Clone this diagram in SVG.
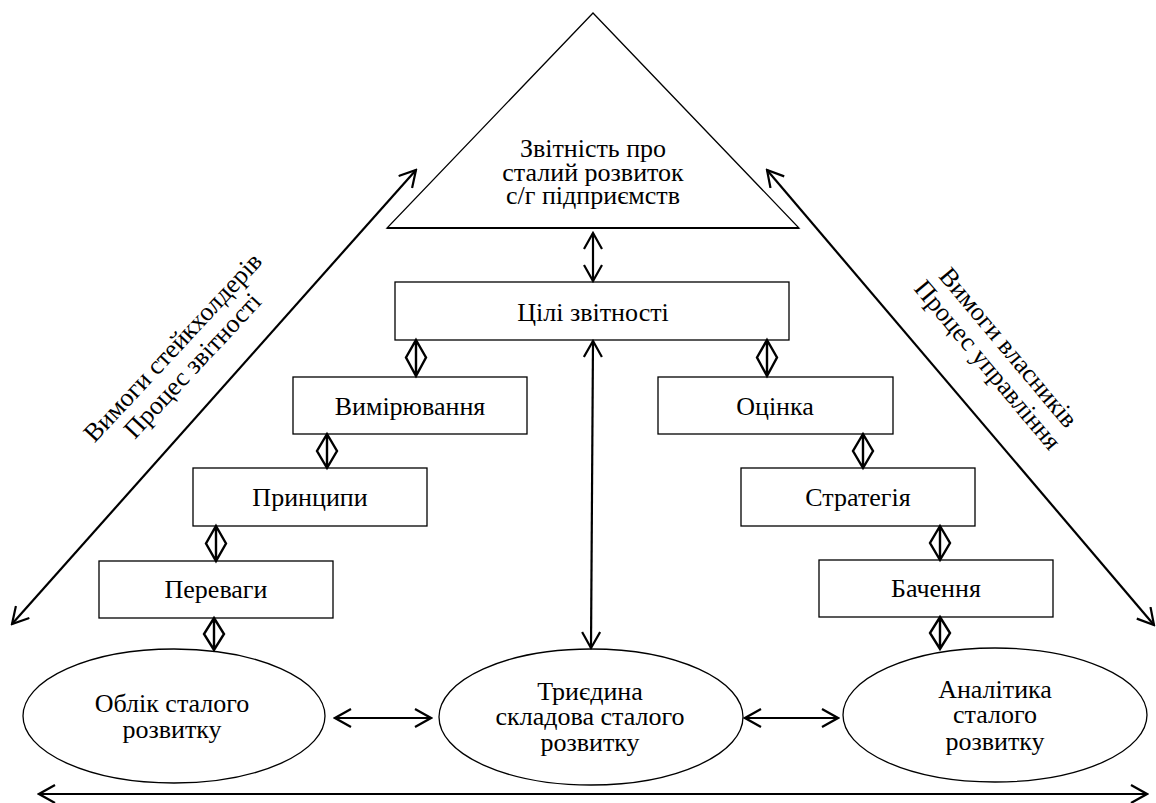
<svg xmlns="http://www.w3.org/2000/svg" width="1156" height="803" viewBox="0 0 1156 803">
<style>
  .shape{fill:#fff;stroke:#000;stroke-width:1.3}
  .arr{fill:none;stroke:#000;stroke-width:2.2;marker-start:url(#ah);marker-end:url(#ah)}
  .dia{fill:none;stroke:#000;stroke-width:2.4;stroke-linejoin:miter}
</style>
<defs>
  <marker id="ah" viewBox="0 0 20 20" refX="18" refY="10" markerWidth="20" markerHeight="20" markerUnits="userSpaceOnUse" orient="auto-start-reverse">
    <path d="M2,1 L18,10 L2,19" fill="none" stroke="#000" stroke-width="2.2"/>
  </marker>
</defs>
<rect width="1156" height="803" fill="#fff"/>

<g font-family="Liberation Serif" font-size="26" text-anchor="middle" fill="#000">
<g id="triangle">
  <polygon class="shape" points="593,13 387,228 799,228"/>
  <line x1="387" y1="228" x2="799" y2="228" stroke="#000" stroke-width="2"/>
  <text x="593" y="157" font-family="Liberation Serif">Звітність про</text>
  <text x="593" y="181" font-family="Liberation Serif">сталий розвиток</text>
  <text x="593" y="204" font-family="Liberation Serif">с/г підприємств</text>
</g>

<g id="goals">
  <rect class="shape" x="395" y="282" width="394" height="58"/>
  <text x="593" y="321" font-family="Liberation Serif">Цілі звітності</text>
</g>
<g id="measure">
  <rect class="shape" x="293" y="377" width="234" height="57"/>
  <text x="410" y="415" font-family="Liberation Serif">Вимірювання</text>
</g>
<g id="principles">
  <rect class="shape" x="193" y="468" width="234" height="58"/>
  <text x="310" y="506" font-family="Liberation Serif">Принципи</text>
</g>
<g id="advantages">
  <rect class="shape" x="99" y="561" width="234" height="57"/>
  <text x="216" y="598" font-family="Liberation Serif">Переваги</text>
</g>
<g id="assessment">
  <rect class="shape" x="658" y="377" width="235" height="57"/>
  <text x="775" y="415" font-family="Liberation Serif">Оцінка</text>
</g>
<g id="strategy">
  <rect class="shape" x="741" y="468" width="234" height="58"/>
  <text x="858" y="506" font-family="Liberation Serif">Стратегія</text>
</g>
<g id="vision">
  <rect class="shape" x="819" y="560" width="234" height="57"/>
  <text x="936" y="597" font-family="Liberation Serif">Бачення</text>
</g>

<g id="accounting">
  <ellipse class="shape" cx="174" cy="716" rx="151" ry="67"/>
  <text x="172" y="712" font-family="Liberation Serif">Облік сталого</text>
  <text x="172" y="738" font-family="Liberation Serif">розвитку</text>
</g>
<g id="triune">
  <ellipse class="shape" cx="591" cy="717" rx="152" ry="68"/>
  <text x="590" y="700" font-family="Liberation Serif">Триєдина</text>
  <text x="590" y="725" font-family="Liberation Serif">складова сталого</text>
  <text x="590" y="751" font-family="Liberation Serif">розвитку</text>
</g>
<g id="analytics">
  <ellipse class="shape" cx="995" cy="715" rx="152" ry="67"/>
  <text x="995" y="698" font-family="Liberation Serif">Аналітика</text>
  <text x="995" y="723" font-family="Liberation Serif">сталого</text>
  <text x="995" y="750" font-family="Liberation Serif">розвитку</text>
</g>

<g id="label-left">
  <g transform="translate(179,353) rotate(-47)">
    <text x="0" y="0" font-family="Liberation Serif">Вимоги стейкхолдерів</text>
    <text x="0" y="27" font-family="Liberation Serif">Процес звітності</text>
  </g>
</g>
<g id="label-right">
  <g transform="translate(1002,353) rotate(50)">
    <text x="0" y="0" font-family="Liberation Serif">Вимоги власників</text>
    <text x="0" y="27" font-family="Liberation Serif">Процес управління</text>
  </g>
</g>
</g>

<g id="connectors">
  <line class="arr" x1="593" y1="233" x2="593" y2="281"/>
  <line class="arr" x1="593" y1="341" x2="591" y2="648"/>
  <line class="arr" x1="335" y1="718" x2="431" y2="718"/>
  <line class="arr" x1="745" y1="718" x2="838" y2="718"/>
  <line class="arr" x1="39" y1="794" x2="1147" y2="794"/>
  <line class="arr" x1="12" y1="624" x2="416" y2="170"/>
  <line class="arr" x1="767" y1="170" x2="1154" y2="625"/>

  <path class="dia" d="M416,340 L426,357.5 L416,376 L406,357.5 Z M416,340 V376"/>
  <path class="dia" d="M767,340 L777,357.5 L767,376 L757,357.5 Z M767,340 V376"/>
  <path class="dia" d="M327,434 L337,451 L327,468 L317,451 Z M327,434 V468"/>
  <path class="dia" d="M863,434 L873,451 L863,468 L853,451 Z M863,434 V468"/>
  <path class="dia" d="M216,526 L226,543.5 L216,561 L206,543.5 Z M216,526 V561"/>
  <path class="dia" d="M940,526 L950,543 L940,560 L930,543 Z M940,526 V560"/>
  <path class="dia" d="M214,618 L224,634 L214,650 L204,634 Z M214,618 V650"/>
  <path class="dia" d="M940,617 L950,633 L940,649 L930,633 Z M940,617 V649"/>
</g>
</svg>
